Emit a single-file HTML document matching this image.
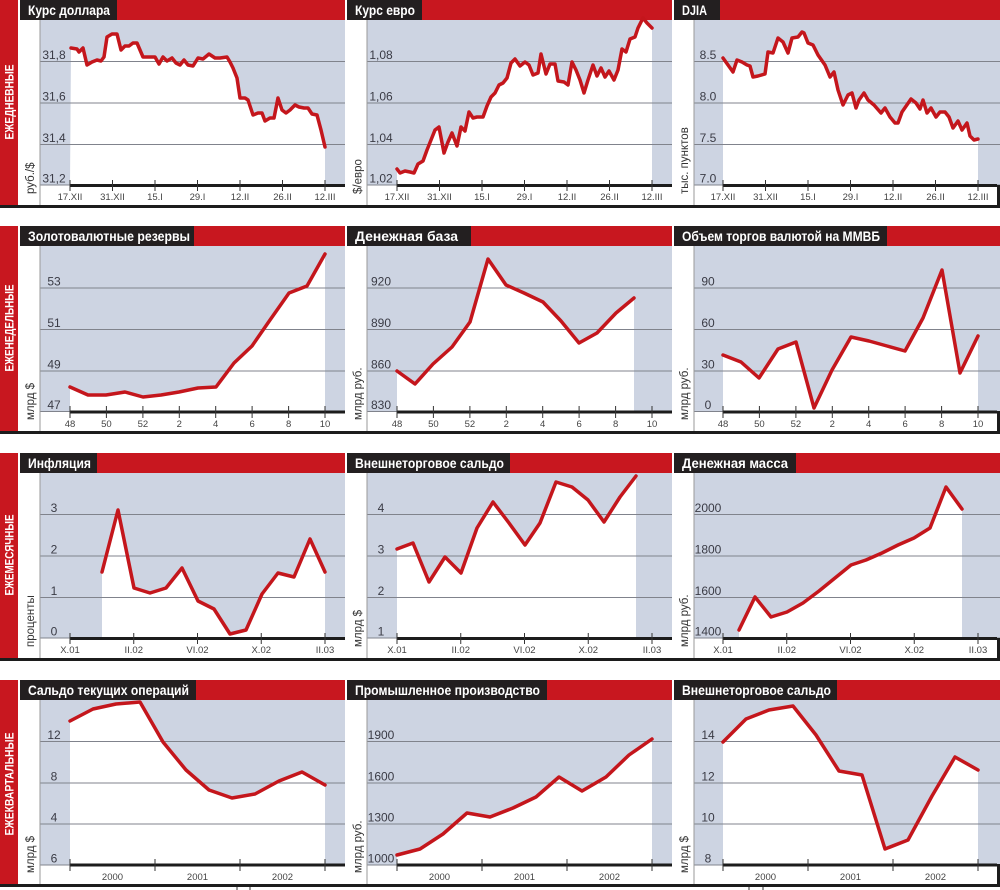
<!DOCTYPE html>
<html><head><meta charset="utf-8"><style>
html,body{margin:0;padding:0;background:#fff;}
svg{display:block;}
text{font-family:"Liberation Sans","DejaVu Sans",sans-serif;}
.t{font-weight:bold;font-size:14px;fill:#fff;}
.c{font-weight:bold;font-size:11.5px;fill:#fff;}
.y{font-size:12px;fill:#3a3b45;text-anchor:middle;}
.x{font-size:9.5px;fill:#444;text-anchor:middle;}
.u{font-size:11.5px;fill:#333;}
.g{stroke:#80838c;stroke-width:1;}
.ax{stroke:#1c1c1c;stroke-width:3;}
.tk{stroke:#333;stroke-width:1;}
.ln{fill:none;stroke:#c4161c;stroke-width:3.5;stroke-linejoin:round;stroke-linecap:round;}
.wf{fill:#fff;stroke:none;}
.bg{fill:#cdd4e2;}
.vl{stroke:#9a9a9a;stroke-width:1;}
</style></head><body>
<svg width="1000" height="890" viewBox="0 0 1000 890" xmlns="http://www.w3.org/2000/svg">
<rect x="0" y="0" width="1000" height="890" fill="#fff"/>

<!-- ================= ROW 1 ================= -->
<rect x="0" y="0" width="18" height="205" fill="#c8171f"/>
<text class="c" transform="translate(13.5,102) rotate(-90)" text-anchor="middle" textLength="75" lengthAdjust="spacingAndGlyphs">ЕЖЕДНЕВНЫЕ</text>
<rect x="20" y="0" width="325" height="20" fill="#c8171f"/>
<rect x="347" y="0" width="325" height="20" fill="#c8171f"/>
<rect x="674" y="0" width="326" height="20" fill="#c8171f"/>
<rect x="20" y="0" width="97" height="20" fill="#231f20"/>
<rect x="347" y="0" width="75" height="20" fill="#231f20"/>
<rect x="674" y="0" width="46" height="20" fill="#231f20"/>
<text class="t" x="28" y="15" textLength="82" lengthAdjust="spacingAndGlyphs">Курс доллара</text>
<text class="t" x="355" y="15" textLength="60" lengthAdjust="spacingAndGlyphs">Курс евро</text>
<text class="t" x="682" y="15" textLength="25" lengthAdjust="spacingAndGlyphs">DJIA</text>
<rect class="bg" x="40" y="20" width="305" height="165"/>
<rect class="bg" x="367" y="20" width="305" height="165"/>
<rect class="bg" x="694" y="20" width="306" height="165"/>
<!-- fills -->
<polygon class="wf" points="70,185 71,48 77,49 79,52 83,48 87,65 92,62 97,60 101,61 104,57 107,37 112,34 117,34 121,50 125,46 129,46 133,43 137,43 143,57 148,57 155,57 159,64 163,57 167,61 172,58 176,63 180,65 184,60 188,65 193,66 198,58 203,59 209,54 215,58 220,58 227,57 230,62 233,68 237,78 240,98 245,98 248,100 253,115 258,113 262,113 265,121 270,118 274,118 278,98 282,110 286,113 290,110 295,105 299,107 304,108 308,108 312,114 317,115 321,130 325,147 325,185"/>
<polygon class="wf" points="397,185 397,169 400,173 405,171 410,172 414,173 418,164 423,161 427,150 435,130 439,127 444,153 448,142 452,133 457,146 461,127 465,131 469,112 473,118 477,117 483,117 487,106 491,97 495,93 499,85 503,83 507,78 511,63 515,59 520,66 525,62 529,65 533,75 538,73 541,54 546,74 550,64 555,64 558,81 564,82 568,85 572,62 576,70 580,80 584,93 588,80 593,65 597,76 601,68 605,77 609,71 614,80 618,70 622,49 626,52 630,39 635,37 638,28 643,20 647,23 652,28 652,185"/>
<polygon class="wf" points="723,185 723,58 728,65 733,72 737,60 742,62 747,65 750,66 753,77 758,76 765,74 768,52 773,53 778,38 783,42 788,53 792,38 798,37 802,32 804,33 808,43 813,45 818,55 825,65 830,77 834,72 838,90 843,105 848,95 852,93 856,108 859,100 864,93 868,100 874,105 881,113 885,108 890,117 895,123 898,123 902,112 911,99 916,103 920,109 923,100 927,113 931,108 936,117 940,112 945,112 949,117 953,128 958,121 962,130 967,123 970,136 974,140 978,139 978,185"/>
<!-- grid -->
<g class="g">
<line x1="40" y1="61.5" x2="345" y2="61.5"/><line x1="40" y1="103" x2="345" y2="103"/><line x1="40" y1="144.5" x2="345" y2="144.5"/><line x1="40" y1="185" x2="345" y2="185"/>
<line x1="367" y1="61.5" x2="672" y2="61.5"/><line x1="367" y1="103" x2="672" y2="103"/><line x1="367" y1="144.5" x2="672" y2="144.5"/><line x1="367" y1="185" x2="672" y2="185"/>
<line x1="694" y1="61.5" x2="1000" y2="61.5"/><line x1="694" y1="103" x2="1000" y2="103"/><line x1="694" y1="144.5" x2="1000" y2="144.5"/><line x1="694" y1="185" x2="1000" y2="185"/>
</g>
<polyline class="ln" points="71,48 77,49 79,52 83,48 87,65 92,62 97,60 101,61 104,57 107,37 112,34 117,34 121,50 125,46 129,46 133,43 137,43 143,57 148,57 155,57 159,64 163,57 167,61 172,58 176,63 180,65 184,60 188,65 193,66 198,58 203,59 209,54 215,58 220,58 227,57 230,62 233,68 237,78 240,98 245,98 248,100 253,115 258,113 262,113 265,121 270,118 274,118 278,98 282,110 286,113 290,110 295,105 299,107 304,108 308,108 312,114 317,115 321,130 325,147"/>
<polyline class="ln" points="397,169 400,173 405,171 410,172 414,173 418,164 423,161 427,150 435,130 439,127 444,153 448,142 452,133 457,146 461,127 465,131 469,112 473,118 477,117 483,117 487,106 491,97 495,93 499,85 503,83 507,78 511,63 515,59 520,66 525,62 529,65 533,75 538,73 541,54 546,74 550,64 555,64 558,81 564,82 568,85 572,62 576,70 580,80 584,93 588,80 593,65 597,76 601,68 605,77 609,71 614,80 618,70 622,49 626,52 630,39 635,37 638,28 643,18 647,23 652,28"/>
<polyline class="ln" points="723,58 728,65 733,72 737,60 742,62 747,65 750,66 753,77 758,76 765,74 768,52 773,53 778,38 783,42 788,53 792,38 798,37 802,32 804,33 808,43 813,45 818,55 825,65 830,77 834,72 838,90 843,105 848,95 852,93 856,108 859,100 864,93 868,100 874,105 881,113 885,108 890,117 895,123 898,123 902,112 911,99 916,103 920,109 923,100 927,113 931,108 936,117 940,112 945,112 949,117 953,128 958,121 962,130 967,123 970,136 974,140 978,139"/>
<!-- axes -->
<line class="ax" x1="70" y1="185.5" x2="345" y2="185.5"/>
<line class="ax" x1="397" y1="185.5" x2="672" y2="185.5"/>
<line class="ax" x1="723" y1="185.5" x2="997" y2="185.5"/>
<g class="tk">
<line x1="70" y1="180" x2="70" y2="191"/><line x1="112.5" y1="180" x2="112.5" y2="191"/><line x1="155" y1="180" x2="155" y2="191"/><line x1="197.5" y1="180" x2="197.5" y2="191"/><line x1="240" y1="180" x2="240" y2="191"/><line x1="282.5" y1="180" x2="282.5" y2="191"/><line x1="325" y1="180" x2="325" y2="191"/>
<line x1="397" y1="180" x2="397" y2="191"/><line x1="439.5" y1="180" x2="439.5" y2="191"/><line x1="482" y1="180" x2="482" y2="191"/><line x1="524.5" y1="180" x2="524.5" y2="191"/><line x1="567" y1="180" x2="567" y2="191"/><line x1="609.5" y1="180" x2="609.5" y2="191"/><line x1="652" y1="180" x2="652" y2="191"/>
<line x1="723" y1="180" x2="723" y2="191"/><line x1="765.5" y1="180" x2="765.5" y2="191"/><line x1="808" y1="180" x2="808" y2="191"/><line x1="850.5" y1="180" x2="850.5" y2="191"/><line x1="893" y1="180" x2="893" y2="191"/><line x1="935.5" y1="180" x2="935.5" y2="191"/><line x1="978" y1="180" x2="978" y2="191"/>
</g>
<g class="vl"><line x1="40" y1="20" x2="40" y2="205"/><line x1="367" y1="20" x2="367" y2="205"/><line x1="694" y1="20" x2="694" y2="205"/></g>
<rect x="997" y="185" width="3" height="21" fill="#1c1c1c"/>
<rect x="0" y="205" width="1000" height="3" fill="#1c1c1c"/>
<text class="y" x="54" y="59">31,8</text><text class="y" x="54" y="100.5">31,6</text><text class="y" x="54" y="142">31,4</text><text class="y" x="54" y="182.5">31,2</text>
<text class="y" x="381" y="59">1,08</text><text class="y" x="381" y="100.5">1,06</text><text class="y" x="381" y="142">1,04</text><text class="y" x="381" y="182.5">1,02</text>
<text class="y" x="708" y="59">8.5</text><text class="y" x="708" y="100.5">8.0</text><text class="y" x="708" y="142">7.5</text><text class="y" x="708" y="182.5">7.0</text>
<text class="x" x="70" y="200">17.XII</text><text class="x" x="112.5" y="200">31.XII</text><text class="x" x="155" y="200">15.I</text><text class="x" x="197.5" y="200">29.I</text><text class="x" x="240" y="200">12.II</text><text class="x" x="282.5" y="200">26.II</text><text class="x" x="325" y="200">12.III</text>
<text class="x" x="397" y="200">17.XII</text><text class="x" x="439.5" y="200">31.XII</text><text class="x" x="482" y="200">15.I</text><text class="x" x="524.5" y="200">29.I</text><text class="x" x="567" y="200">12.II</text><text class="x" x="609.5" y="200">26.II</text><text class="x" x="652" y="200">12.III</text>
<text class="x" x="723" y="200">17.XII</text><text class="x" x="765.5" y="200">31.XII</text><text class="x" x="808" y="200">15.I</text><text class="x" x="850.5" y="200">29.I</text><text class="x" x="893" y="200">12.II</text><text class="x" x="935.5" y="200">26.II</text><text class="x" x="978" y="200">12.III</text>
<text class="u" transform="translate(34,194) rotate(-90)">руб./$</text>
<text class="u" transform="translate(361.5,194) rotate(-90)">$/евро</text>
<text class="u" transform="translate(688,194) rotate(-90)">тыс. пунктов</text>

<!-- ================= ROW 2 ================= -->
<rect x="0" y="226" width="18" height="205" fill="#c8171f"/>
<text class="c" transform="translate(13.5,328) rotate(-90)" text-anchor="middle" textLength="87" lengthAdjust="spacingAndGlyphs">ЕЖЕНЕДЕЛЬНЫЕ</text>
<rect x="20" y="226" width="325" height="20" fill="#c8171f"/>
<rect x="347" y="226" width="325" height="20" fill="#c8171f"/>
<rect x="674" y="226" width="326" height="20" fill="#c8171f"/>
<rect x="20" y="226" width="174" height="20" fill="#231f20"/>
<rect x="347" y="226" width="124" height="20" fill="#231f20"/>
<rect x="674" y="226" width="213" height="20" fill="#231f20"/>
<text class="t" x="28" y="241" textLength="162" lengthAdjust="spacingAndGlyphs">Золотовалютные резервы</text>
<text class="t" x="355" y="241" textLength="103" lengthAdjust="spacingAndGlyphs">Денежная база</text>
<text class="t" x="682" y="241" textLength="198" lengthAdjust="spacingAndGlyphs">Объем торгов валютой на ММВБ</text>
<rect class="bg" x="40" y="246" width="305" height="166"/>
<rect class="bg" x="367" y="246" width="305" height="166"/>
<rect class="bg" x="694" y="246" width="306" height="166"/>
<polygon class="wf" points="70,412 70,387 88,395 106,395 125,392 143,397 161,395 179,392 198,388 216,387 234,363 252,346 270,320 289,293 307,286 325,254 325,412"/>
<polygon class="wf" points="397,412 397,371 415,384 433,364 452,347 470,322 488,259 506,285 524,293 543,302 561,321 579,343 597,333 616,313 634,298 634,412"/>
<polygon class="wf" points="723,412 723,355 741,362 759,378 778,349 796,342 814,408 832,370 851,337 869,341 887,346 905,351 923,318 942,270 960,373 978,336 978,412"/>
<g class="g">
<line x1="40" y1="288" x2="345" y2="288"/><line x1="40" y1="329.5" x2="345" y2="329.5"/><line x1="40" y1="371" x2="345" y2="371"/><line x1="40" y1="411.5" x2="345" y2="411.5"/>
<line x1="367" y1="288" x2="672" y2="288"/><line x1="367" y1="329.5" x2="672" y2="329.5"/><line x1="367" y1="371" x2="672" y2="371"/><line x1="367" y1="411.5" x2="672" y2="411.5"/>
<line x1="694" y1="288" x2="1000" y2="288"/><line x1="694" y1="329.5" x2="1000" y2="329.5"/><line x1="694" y1="371" x2="1000" y2="371"/><line x1="694" y1="411.5" x2="1000" y2="411.5"/>
</g>
<polyline class="ln" points="70,387 88,395 106,395 125,392 143,397 161,395 179,392 198,388 216,387 234,363 252,346 270,320 289,293 307,286 325,254"/>
<polyline class="ln" points="397,371 415,384 433,364 452,347 470,322 488,259 506,285 524,293 543,302 561,321 579,343 597,333 616,313 634,298"/>
<polyline class="ln" points="723,355 741,362 759,378 778,349 796,342 814,408 832,370 851,337 869,341 887,346 905,351 923,318 942,270 960,373 978,336"/>
<line class="ax" x1="70" y1="412" x2="345" y2="412"/>
<line class="ax" x1="397" y1="412" x2="672" y2="412"/>
<line class="ax" x1="723" y1="412" x2="997" y2="412"/>
<g class="tk">
<line x1="70" y1="406" x2="70" y2="418"/><line x1="106.4" y1="406" x2="106.4" y2="418"/><line x1="142.9" y1="406" x2="142.9" y2="418"/><line x1="179.3" y1="406" x2="179.3" y2="418"/><line x1="215.7" y1="406" x2="215.7" y2="418"/><line x1="252.1" y1="406" x2="252.1" y2="418"/><line x1="288.6" y1="406" x2="288.6" y2="418"/><line x1="325" y1="406" x2="325" y2="418"/>
<line x1="397" y1="406" x2="397" y2="418"/><line x1="433.4" y1="406" x2="433.4" y2="418"/><line x1="469.9" y1="406" x2="469.9" y2="418"/><line x1="506.3" y1="406" x2="506.3" y2="418"/><line x1="542.7" y1="406" x2="542.7" y2="418"/><line x1="579.1" y1="406" x2="579.1" y2="418"/><line x1="615.6" y1="406" x2="615.6" y2="418"/><line x1="652" y1="406" x2="652" y2="418"/>
<line x1="723" y1="406" x2="723" y2="418"/><line x1="759.4" y1="406" x2="759.4" y2="418"/><line x1="795.9" y1="406" x2="795.9" y2="418"/><line x1="832.3" y1="406" x2="832.3" y2="418"/><line x1="868.7" y1="406" x2="868.7" y2="418"/><line x1="905.1" y1="406" x2="905.1" y2="418"/><line x1="941.6" y1="406" x2="941.6" y2="418"/><line x1="978" y1="406" x2="978" y2="418"/>
</g>
<g class="vl"><line x1="40" y1="246" x2="40" y2="431"/><line x1="367" y1="246" x2="367" y2="431"/><line x1="694" y1="246" x2="694" y2="431"/></g>
<rect x="997" y="411" width="3" height="21" fill="#1c1c1c"/>
<rect x="0" y="431" width="1000" height="3" fill="#1c1c1c"/>
<text class="y" x="54" y="285.5">53</text><text class="y" x="54" y="327">51</text><text class="y" x="54" y="368.5">49</text><text class="y" x="54" y="409">47</text>
<text class="y" x="381" y="285.5">920</text><text class="y" x="381" y="327">890</text><text class="y" x="381" y="368.5">860</text><text class="y" x="381" y="409">830</text>
<text class="y" x="708" y="285.5">90</text><text class="y" x="708" y="327">60</text><text class="y" x="708" y="368.5">30</text><text class="y" x="708" y="409">0</text>
<text class="x" x="70" y="427">48</text><text class="x" x="106.4" y="427">50</text><text class="x" x="142.9" y="427">52</text><text class="x" x="179.3" y="427">2</text><text class="x" x="215.7" y="427">4</text><text class="x" x="252.1" y="427">6</text><text class="x" x="288.6" y="427">8</text><text class="x" x="325" y="427">10</text>
<text class="x" x="397" y="427">48</text><text class="x" x="433.4" y="427">50</text><text class="x" x="469.9" y="427">52</text><text class="x" x="506.3" y="427">2</text><text class="x" x="542.7" y="427">4</text><text class="x" x="579.1" y="427">6</text><text class="x" x="615.6" y="427">8</text><text class="x" x="652" y="427">10</text>
<text class="x" x="723" y="427">48</text><text class="x" x="759.4" y="427">50</text><text class="x" x="795.9" y="427">52</text><text class="x" x="832.3" y="427">2</text><text class="x" x="868.7" y="427">4</text><text class="x" x="905.1" y="427">6</text><text class="x" x="941.6" y="427">8</text><text class="x" x="978" y="427">10</text>
<text class="u" transform="translate(34,420) rotate(-90)">млрд $</text>
<text class="u" transform="translate(361.5,420) rotate(-90)">млрд руб.</text>
<text class="u" transform="translate(688,420) rotate(-90)">млрд руб.</text>

<!-- ================= ROW 3 ================= -->
<rect x="0" y="453" width="18" height="205" fill="#c8171f"/>
<text class="c" transform="translate(13.5,555) rotate(-90)" text-anchor="middle" textLength="81" lengthAdjust="spacingAndGlyphs">ЕЖЕМЕСЯЧНЫЕ</text>
<rect x="20" y="453" width="325" height="20" fill="#c8171f"/>
<rect x="347" y="453" width="325" height="20" fill="#c8171f"/>
<rect x="674" y="453" width="326" height="20" fill="#c8171f"/>
<rect x="20" y="453" width="77" height="20" fill="#231f20"/>
<rect x="347" y="453" width="163" height="20" fill="#231f20"/>
<rect x="674" y="453" width="122" height="20" fill="#231f20"/>
<text class="t" x="28" y="468" textLength="63" lengthAdjust="spacingAndGlyphs">Инфляция</text>
<text class="t" x="355" y="468" textLength="149" lengthAdjust="spacingAndGlyphs">Внешнеторговое сальдо</text>
<text class="t" x="682" y="468" textLength="106" lengthAdjust="spacingAndGlyphs">Денежная масса</text>
<rect class="bg" x="40" y="473" width="305" height="165"/>
<rect class="bg" x="367" y="473" width="305" height="165"/>
<rect class="bg" x="694" y="473" width="306" height="165"/>
<polygon class="wf" points="102,638 102,572 118,510 134,588 150,593 166,588 182,568 198,601 214,609 230,634 246,630 262,594 278,573 294,577 310,539 325,572 325,638"/>
<polygon class="wf" points="397,638 397,549 413,543 429,582 445,557 461,573 477,528 493,502 509,523 525,545 540,523 556,482 572,487 588,500 604,522 620,497 636,476 636,638"/>
<polygon class="wf" points="739,638 739,630 755,597 771,617 787,612 803,603 819,591 835,578 851,565 866,560 882,553 898,545 914,538 930,528 946,487 962,509 962,638"/>
<g class="g">
<line x1="40" y1="514.5" x2="345" y2="514.5"/><line x1="40" y1="556" x2="345" y2="556"/><line x1="40" y1="597.5" x2="345" y2="597.5"/><line x1="40" y1="638" x2="345" y2="638"/>
<line x1="367" y1="514.5" x2="672" y2="514.5"/><line x1="367" y1="556" x2="672" y2="556"/><line x1="367" y1="597.5" x2="672" y2="597.5"/><line x1="367" y1="638" x2="672" y2="638"/>
<line x1="694" y1="514.5" x2="1000" y2="514.5"/><line x1="694" y1="556" x2="1000" y2="556"/><line x1="694" y1="597.5" x2="1000" y2="597.5"/><line x1="694" y1="638" x2="1000" y2="638"/>
</g>
<polyline class="ln" points="102,572 118,510 134,588 150,593 166,588 182,568 198,601 214,609 230,634 246,630 262,594 278,573 294,577 310,539 325,572"/>
<polyline class="ln" points="397,549 413,543 429,582 445,557 461,573 477,528 493,502 509,523 525,545 540,523 556,482 572,487 588,500 604,522 620,497 636,476"/>
<polyline class="ln" points="739,630 755,597 771,617 787,612 803,603 819,591 835,578 851,565 866,560 882,553 898,545 914,538 930,528 946,487 962,509"/>
<line class="ax" x1="70" y1="638.5" x2="345" y2="638.5"/>
<line class="ax" x1="397" y1="638.5" x2="672" y2="638.5"/>
<line class="ax" x1="723" y1="638.5" x2="997" y2="638.5"/>
<g class="tk">
<line x1="70" y1="633" x2="70" y2="644"/><line x1="133.75" y1="633" x2="133.75" y2="644"/><line x1="197.5" y1="633" x2="197.5" y2="644"/><line x1="261.25" y1="633" x2="261.25" y2="644"/><line x1="325" y1="633" x2="325" y2="644"/>
<line x1="397" y1="633" x2="397" y2="644"/><line x1="460.75" y1="633" x2="460.75" y2="644"/><line x1="524.5" y1="633" x2="524.5" y2="644"/><line x1="588.25" y1="633" x2="588.25" y2="644"/><line x1="652" y1="633" x2="652" y2="644"/>
<line x1="723" y1="633" x2="723" y2="644"/><line x1="786.75" y1="633" x2="786.75" y2="644"/><line x1="850.5" y1="633" x2="850.5" y2="644"/><line x1="914.25" y1="633" x2="914.25" y2="644"/><line x1="978" y1="633" x2="978" y2="644"/>
</g>
<g class="vl"><line x1="40" y1="473" x2="40" y2="658"/><line x1="367" y1="473" x2="367" y2="658"/><line x1="694" y1="473" x2="694" y2="658"/></g>
<rect x="997" y="638" width="3" height="21" fill="#1c1c1c"/>
<rect x="0" y="658" width="1000" height="3" fill="#1c1c1c"/>
<text class="y" x="54" y="512">3</text><text class="y" x="54" y="553.5">2</text><text class="y" x="54" y="595">1</text><text class="y" x="54" y="635.5">0</text>
<text class="y" x="381" y="512">4</text><text class="y" x="381" y="553.5">3</text><text class="y" x="381" y="595">2</text><text class="y" x="381" y="635.5">1</text>
<text class="y" x="708" y="512">2000</text><text class="y" x="708" y="553.5">1800</text><text class="y" x="708" y="595">1600</text><text class="y" x="708" y="635.5">1400</text>
<text class="x" x="70" y="653">X.01</text><text class="x" x="133.75" y="653">II.02</text><text class="x" x="197.5" y="653">VI.02</text><text class="x" x="261.25" y="653">X.02</text><text class="x" x="325" y="653">II.03</text>
<text class="x" x="397" y="653">X.01</text><text class="x" x="460.75" y="653">II.02</text><text class="x" x="524.5" y="653">VI.02</text><text class="x" x="588.25" y="653">X.02</text><text class="x" x="652" y="653">II.03</text>
<text class="x" x="723" y="653">X.01</text><text class="x" x="786.75" y="653">II.02</text><text class="x" x="850.5" y="653">VI.02</text><text class="x" x="914.25" y="653">X.02</text><text class="x" x="978" y="653">II.03</text>
<text class="u" transform="translate(34,647) rotate(-90)">проценты</text>
<text class="u" transform="translate(361.5,647) rotate(-90)">млрд $</text>
<text class="u" transform="translate(688,647) rotate(-90)">млрд руб.</text>

<!-- ================= ROW 4 ================= -->
<rect x="0" y="680" width="18" height="204" fill="#c8171f"/>
<text class="c" transform="translate(13.5,784) rotate(-90)" text-anchor="middle" textLength="103" lengthAdjust="spacingAndGlyphs">ЕЖЕКВАРТАЛЬНЫЕ</text>
<rect x="20" y="680" width="325" height="20" fill="#c8171f"/>
<rect x="347" y="680" width="325" height="20" fill="#c8171f"/>
<rect x="674" y="680" width="326" height="20" fill="#c8171f"/>
<rect x="20" y="680" width="176" height="20" fill="#231f20"/>
<rect x="347" y="680" width="200" height="20" fill="#231f20"/>
<rect x="674" y="680" width="163" height="20" fill="#231f20"/>
<text class="t" x="28" y="695" textLength="161" lengthAdjust="spacingAndGlyphs">Сальдо текущих операций</text>
<text class="t" x="355" y="695" textLength="185" lengthAdjust="spacingAndGlyphs">Промышленное производство</text>
<text class="t" x="682" y="695" textLength="149" lengthAdjust="spacingAndGlyphs">Внешнеторговое сальдо</text>
<rect class="bg" x="40" y="700" width="305" height="165"/>
<rect class="bg" x="367" y="700" width="305" height="165"/>
<rect class="bg" x="694" y="700" width="306" height="165"/>
<polygon class="wf" points="70,865 70,721 93,709 116,704 140,702 163,742 186,770 209,790 232,798 255,794 279,781 302,772 325,785 325,865"/>
<polygon class="wf" points="397,865 397,855 420,849 443,834 467,813 490,817 513,808 536,797 559,777 582,791 606,777 629,755 652,739 652,865"/>
<polygon class="wf" points="723,865 723,742 746,719 769,710 793,706 816,735 839,771 862,775 885,849 908,840 932,796 955,757 978,770 978,865"/>
<g class="g">
<line x1="40" y1="741.5" x2="345" y2="741.5"/><line x1="40" y1="783" x2="345" y2="783"/><line x1="40" y1="824" x2="345" y2="824"/><line x1="40" y1="865" x2="345" y2="865"/>
<line x1="367" y1="741.5" x2="672" y2="741.5"/><line x1="367" y1="783" x2="672" y2="783"/><line x1="367" y1="824" x2="672" y2="824"/><line x1="367" y1="865" x2="672" y2="865"/>
<line x1="694" y1="741.5" x2="1000" y2="741.5"/><line x1="694" y1="783" x2="1000" y2="783"/><line x1="694" y1="824" x2="1000" y2="824"/><line x1="694" y1="865" x2="1000" y2="865"/>
</g>
<polyline class="ln" points="70,721 93,709 116,704 140,702 163,742 186,770 209,790 232,798 255,794 279,781 302,772 325,785"/>
<polyline class="ln" points="397,855 420,849 443,834 467,813 490,817 513,808 536,797 559,777 582,791 606,777 629,755 652,739"/>
<polyline class="ln" points="723,742 746,719 769,710 793,706 816,735 839,771 862,775 885,849 908,840 932,796 955,757 978,770"/>
<line class="ax" x1="70" y1="865" x2="345" y2="865"/>
<line class="ax" x1="397" y1="865" x2="672" y2="865"/>
<line class="ax" x1="723" y1="865" x2="997" y2="865"/>
<g class="tk">
<line x1="70" y1="859" x2="70" y2="871"/><line x1="155" y1="859" x2="155" y2="871"/><line x1="240" y1="859" x2="240" y2="871"/><line x1="325" y1="859" x2="325" y2="871"/>
<line x1="397" y1="859" x2="397" y2="871"/><line x1="482" y1="859" x2="482" y2="871"/><line x1="567" y1="859" x2="567" y2="871"/><line x1="652" y1="859" x2="652" y2="871"/>
<line x1="723" y1="859" x2="723" y2="871"/><line x1="808" y1="859" x2="808" y2="871"/><line x1="893" y1="859" x2="893" y2="871"/><line x1="978" y1="859" x2="978" y2="871"/>
<line x1="237" y1="887" x2="237" y2="890"/><line x1="250" y1="887" x2="250" y2="890"/><line x1="749" y1="887" x2="749" y2="890"/><line x1="763" y1="887" x2="763" y2="890"/>
</g>
<g class="vl"><line x1="40" y1="700" x2="40" y2="884"/><line x1="367" y1="700" x2="367" y2="884"/><line x1="694" y1="700" x2="694" y2="884"/></g>
<rect x="997" y="864" width="3" height="21" fill="#1c1c1c"/>
<rect x="0" y="884" width="1000" height="3" fill="#1c1c1c"/>
<text class="y" x="54" y="739">12</text><text class="y" x="54" y="780.5">8</text><text class="y" x="54" y="821.5">4</text><text class="y" x="54" y="862.5">6</text>
<text class="y" x="381" y="739">1900</text><text class="y" x="381" y="780.5">1600</text><text class="y" x="381" y="821.5">1300</text><text class="y" x="381" y="862.5">1000</text>
<text class="y" x="708" y="739">14</text><text class="y" x="708" y="780.5">12</text><text class="y" x="708" y="821.5">10</text><text class="y" x="708" y="862.5">8</text>
<text class="x" x="112.5" y="880">2000</text><text class="x" x="197.5" y="880">2001</text><text class="x" x="282.5" y="880">2002</text>
<text class="x" x="439.5" y="880">2000</text><text class="x" x="524.5" y="880">2001</text><text class="x" x="609.5" y="880">2002</text>
<text class="x" x="765.5" y="880">2000</text><text class="x" x="850.5" y="880">2001</text><text class="x" x="935.5" y="880">2002</text>
<text class="u" transform="translate(34,873) rotate(-90)">млрд $</text>
<text class="u" transform="translate(361.5,873) rotate(-90)">млрд руб.</text>
<text class="u" transform="translate(688,873) rotate(-90)">млрд $</text>
</svg>
</body></html>
